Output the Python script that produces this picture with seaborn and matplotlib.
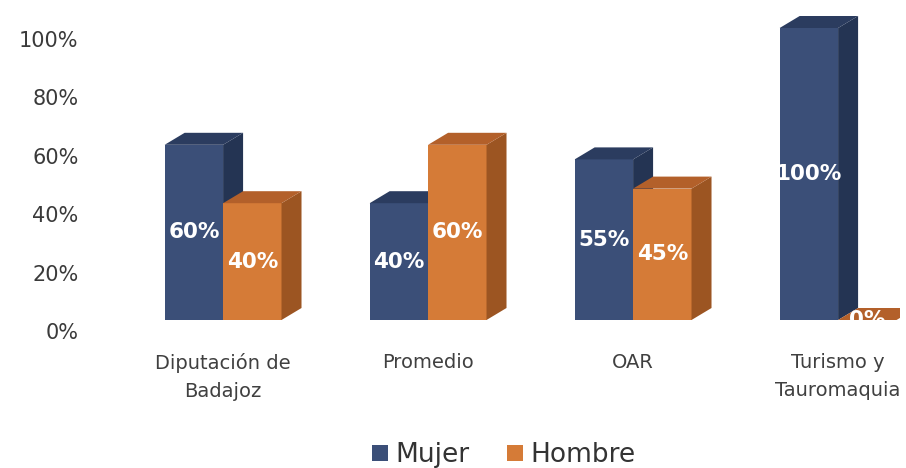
import pandas as pd
import numpy as np
import matplotlib.pyplot as plt
import seaborn as sns
from matplotlib.patches import Polygon
from matplotlib.lines import Line2D
from matplotlib.transforms import ScaledTranslation

# data
categorias = ["Diputación de\nBadajoz", "Promedio", "OAR", "Turismo y\nTauromaquia"]
mujer = [0.60, 0.40, 0.55, 1.00]
hombre = [0.40, 0.60, 0.45, 0.00]
series = ["Mujer", "Hombre"]

# colours: front, side, top
front = {"Mujer": "#3b4f78", "Hombre": "#d57b37"}
side = {"Mujer": "#243453", "Hombre": "#9c5522"}
top = {"Mujer": "#2b3c5f", "Hombre": "#b3602a"}

df = pd.DataFrame({
    "cat": categorias * 2,
    "val": mujer + hombre,
    "sexo": ["Mujer"] * len(categorias) + ["Hombre"] * len(categorias),
})

sns.set_style("white")
plt.rcParams["font.family"] = ["DejaVu Sans"]

fig = plt.figure(figsize=(9.06, 4.68), dpi=100)
ax = fig.add_axes([105 / 906, 148 / 468, 795 / 906, 1.05 * 292 / 468])

sns.barplot(data=df, x="cat", y="val", hue="sexo", hue_order=series,
            palette=[front[s] for s in series], saturation=1, width=0.57,
            linewidth=0, legend=False, ax=ax)

ax.set_xlim(-0.576, 3.302)
ax.set_ylim(0, 1.05)
ax.set_xlabel("")
ax.set_ylabel("")
sns.despine(ax=ax, left=True, bottom=True)

# 3D depth in data units (20 px right, 12 px up)
inv = ax.transData.inverted()
p0 = inv.transform(ax.transData.transform((0, 0)))
p1 = inv.transform(ax.transData.transform((0, 0)) + np.array([20, 12]))
ddx, ddy = p1 - p0

for k, (name, cont) in enumerate(zip(series, ax.containers)):
    for bar in cont:
        x0, y0 = bar.get_x(), bar.get_y()
        w, h = bar.get_width(), bar.get_height()
        x1, y1 = x0 + w, y0 + h
        bar.set_zorder(2 + k)
        ax.add_patch(Polygon([(x1, y0), (x1 + ddx, y0 + ddy), (x1 + ddx, y1 + ddy), (x1, y1)],
                             closed=True, facecolor=side[name], lw=0, zorder=2 + k))
        ax.add_patch(Polygon([(x0, y1), (x0 + ddx, y1 + ddy), (x1 + ddx, y1 + ddy), (x1, y1)],
                             closed=True, facecolor=top[name], lw=0, zorder=2 + k))
        ax.text(x0 + w / 2, h / 2, f"{h:.0%}", ha="center", va="center",
                color="white", fontsize=15.5, fontweight="bold", zorder=6,
                clip_on=False)

# axis labels
ax.set_yticks(np.arange(0, 1.01, 0.2))
ax.set_yticklabels([f"{v:.0%}" for v in np.arange(0, 1.01, 0.2)])
ax.tick_params(axis="y", length=0, pad=19, labelsize=15, labelcolor="#3a3a3a")
ax.tick_params(axis="x", length=0, pad=24, labelsize=14, labelcolor="#404040")
shift = ScaledTranslation(0, -11 / 100, fig.dpi_scale_trans)
for lab in ax.get_yticklabels():
    lab.set_transform(lab.get_transform() + shift)
for lab in ax.get_xticklabels():
    lab.set_linespacing(1.6)

# legend
handles = [Line2D([], [], marker="s", linestyle="", markersize=11,
                  markerfacecolor=front[s], markeredgewidth=0) for s in series]
fig.legend(handles, series, loc="center", bbox_to_anchor=(0.553, 13 / 468),
           ncol=2, frameon=False, fontsize=19, handletextpad=0.1,
           handlelength=1.0, columnspacing=1.2, labelcolor="#333333")

fig.savefig("out.png", dpi=100)
